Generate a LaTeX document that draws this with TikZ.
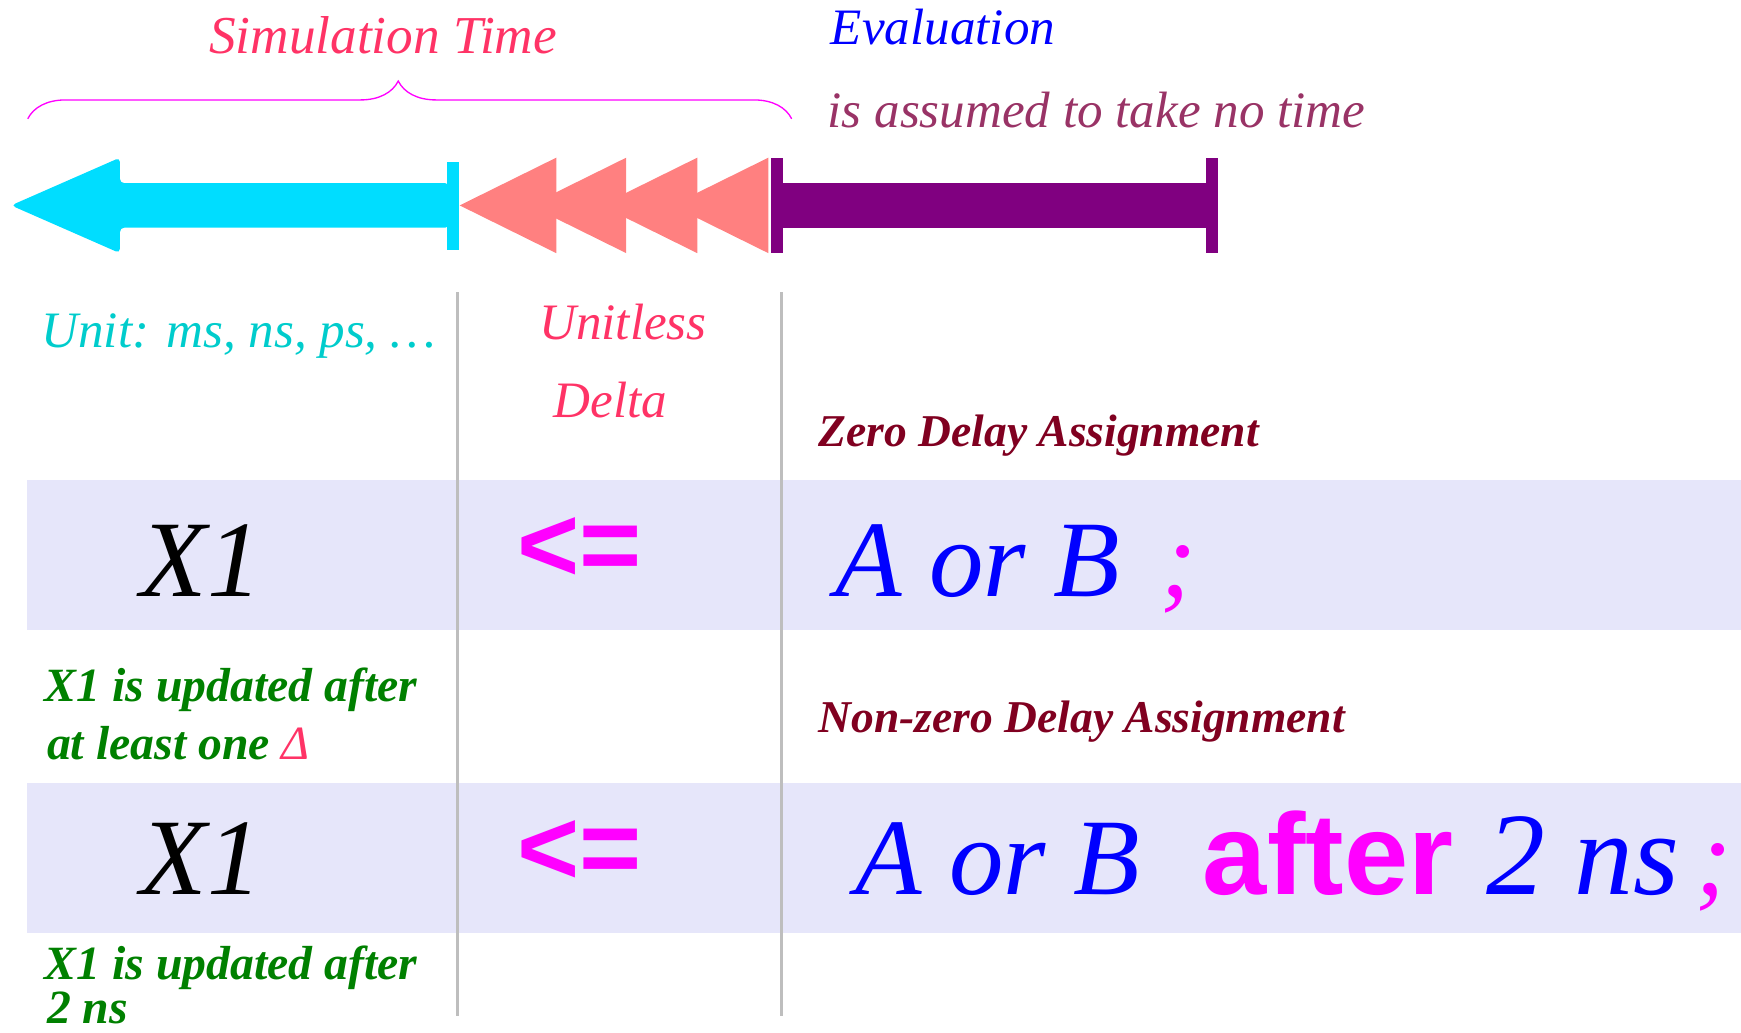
\documentclass[tikz,border=0pt]{standalone}
\usepackage{fontspec}
\setmainfont{Liberation Serif}
\newfontfamily\opfont{Liberation Sans}
\usetikzlibrary{decorations.pathreplacing}

\definecolor{simcol}{RGB}{255,51,102}
\definecolor{notime}{RGB}{153,51,102}
\definecolor{unitcyan}{RGB}{0,204,204}
\definecolor{headred}{RGB}{128,0,32}
\definecolor{updgreen}{RGB}{0,128,0}
\definecolor{opmag}{RGB}{255,0,255}
\definecolor{arrowcyan}{RGB}{0,221,255}
\definecolor{salmon}{RGB}{255,128,128}
\definecolor{evalpurple}{RGB}{128,0,128}
\definecolor{bandlav}{RGB}{230,230,250}
\definecolor{linegray}{RGB}{190,190,190}

\begin{document}
\begin{tikzpicture}[x=0.5pt, y=-0.5pt, every node/.style={inner sep=0pt},
	lbl/.style={font=\itshape\fontsize{23}{27}\selectfont},
	head/.style={headred, font=\bfseries\itshape\fontsize{20.5}{24}\selectfont, anchor=base west},
	upd/.style={updgreen, font=\bfseries\itshape\fontsize{21.5}{26}\selectfont, anchor=base west},
	big/.style={font=\itshape\fontsize{49}{56}\selectfont},
	op/.style={opmag, font=\opfont\bfseries\fontsize{48}{56}\selectfont}]
	\useasboundingbox (0,0) rectangle (1568,930);
	% rows
	\fill[bandlav] (24,432) rectangle (1568,567);
	\fill[bandlav] (24,705) rectangle (1568,840);
	\draw[linegray, line width=1.5pt] (412,263) -- (412,915);
	\draw[linegray, line width=1.5pt] (704,263) -- (704,915);
	% time line
	\fill[arrowcyan, rounded corners=2pt] (10,185) -- (108,142) -- (108,165) -- (405,165) -- (405,205) -- (108,205) -- (108,228) -- cycle;
	\fill[arrowcyan] (403,146) rectangle (413,225);
	\foreach \b in {501,564,628,692} {\fill[salmon] (\b-87,185) -- (\b,142) -- (\b,228) -- cycle;}
	\fill[evalpurple] (694,142) rectangle (705,228);
	\fill[evalpurple] (705,165) rectangle (1086,205);
	\fill[evalpurple] (1086,142) rectangle (1097,228);
	\draw[opmag, line width=0.6pt, decorate, decoration={brace, amplitude=17pt, aspect=0.485}] (25,107) -- (713,107);
	% labels
	\node[lbl, simcol, font=\itshape\fontsize{24}{28}\selectfont, anchor=base] (simtime) at (345,48) {Simulation Time};
	\node[lbl, blue, anchor=base west] (evaltxt) at (748,40) {Evaluation};
	\node[lbl, notime, anchor=base west] (notimetxt) at (745,115) {is assumed to take no time};
	\node[lbl, unitcyan, anchor=base west] (unit) at (37,313) {Unit: ms, ns, ps, \dots};
	\node[lbl, simcol, anchor=base] (unitless) at (561,306) {Unitless};
	\node[lbl, simcol, anchor=base] (delta) at (550,376) {Delta};
	\node[head] (zerohd) at (737,402) {Zero Delay Assignment};
	\node[head] (nonzerohd) at (737,660) {Non-zero Delay Assignment};
	% zero delay row
	\node[big, anchor=base] (lhs1) at (181,537) {X1};
	\node[op] (op1) at (522,495) {<=};
	\node[big, blue, anchor=base west] (rhs1) at (752,537) {A or B};
	\node[big, opmag, anchor=base west] (semi1) at (1045,537) {;};
	\node[upd] (upd1a) at (40,632) {X1 is updated after};
	\node[upd] (upd1b) at (42,684) {at least one {\mdseries\color{simcol}Δ}};
	% non-zero delay row
	\node[big, anchor=base] (lhs2) at (181,806) {X1};
	\node[op] (op2) at (522,768) {<=};
	\node[big, blue, anchor=base west] (rhs2) at (770,806) {A or B};
	\node[opmag, font=\opfont\bfseries\fontsize{52}{60}\selectfont, anchor=base west] (after) at (1083,806) {after};
	\node[big, blue, font=\itshape\fontsize{53}{60}\selectfont, anchor=base west] (delay) at (1338,806) {2 ns};
	\node[big, opmag, anchor=base west] (semi2) at (1527,806) {;};
	\node[upd] (upd2a) at (40,882) {X1 is updated after};
	\node[upd] (upd2b) at (42,922) {2 ns};
\end{tikzpicture}
\end{document}
